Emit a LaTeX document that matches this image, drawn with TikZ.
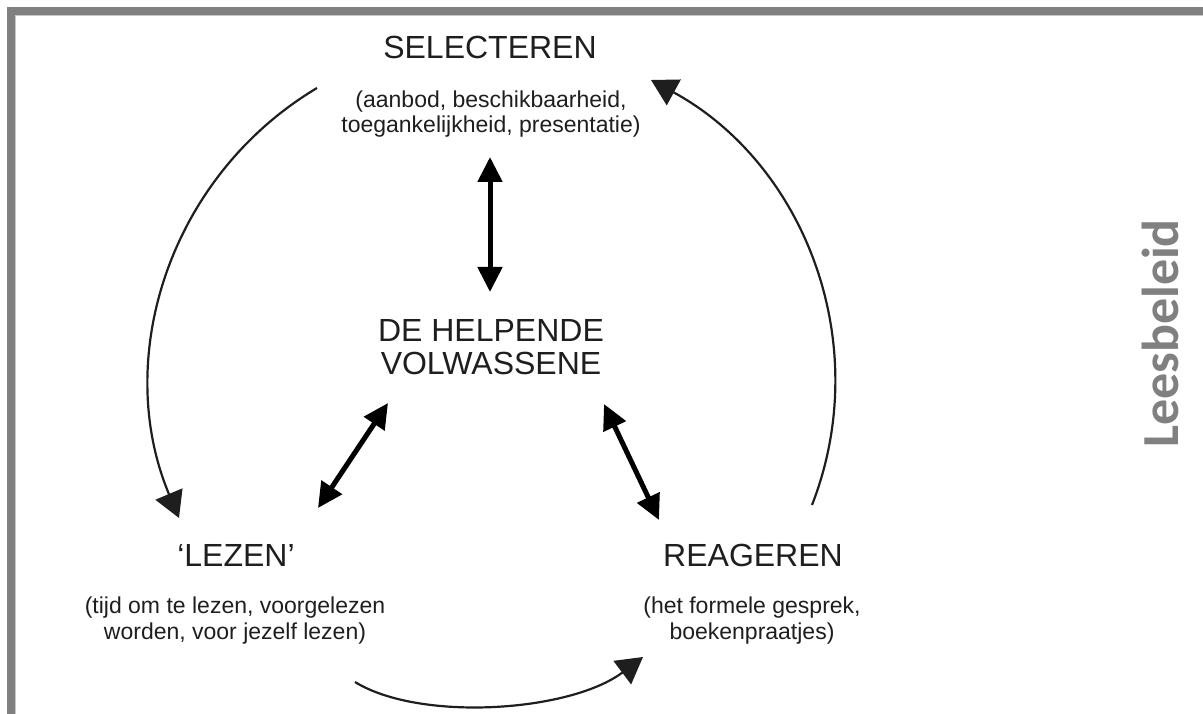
\documentclass[tikz,border=0pt]{standalone}
\usepackage{fontspec}
\setmainfont{Liberation Sans}
\newfontfamily\leesfont{Carlito}
\usetikzlibrary{arrows.meta}
\definecolor{frameg}{HTML}{808080}
\definecolor{txt}{HTML}{1E1E1E}
\tikzset{
  mainlbl/.style={anchor=base, inner sep=0pt, text=txt, font=\fontsize{32}{33}\selectfont, align=center},
  sublbl/.style={anchor=base, inner sep=0pt, text=txt, font=\fontsize{23}{25.5}\selectfont, align=center},
  cyclearrow/.style={line width=2.2pt, draw=txt, -{Triangle[length=26pt, width=29pt]}},
  linkarrow/.style={line width=5pt, draw=black, {Triangle[length=25pt, width=24pt]}-{Triangle[length=25pt, width=24pt]}}
}
\begin{document}
\begin{tikzpicture}[x=1pt, y=-1pt]
\useasboundingbox (0,0) rectangle (1203,714);
% frame
\draw[frameg, line width=8pt] (10.7,730) -- (10.7,10.7) -- (1220,10.7);
\draw[black!22, line width=1pt] (15.2,730) -- (15.2,15.2) -- (1220,15.2);
% labels (base anchor = baseline of the last line)
\node[mainlbl] (sel) at (490,59) {SELECTEREN};
\node[sublbl] (selsub) at (491,133) {(aanbod, beschikbaarheid,\\toegankelijkheid, presentatie)};
\node[mainlbl] (dhv) at (491,374) {DE HELPENDE\\VOLWASSENE};
\node[mainlbl] (lez) at (236,566) {‘LEZEN’};
\node[sublbl] (lezsub) at (235,639) {(tijd om te lezen, voorgelezen\\worden, voor jezelf lezen)};
\node[mainlbl] (rea) at (753,566) {REAGEREN};
\node[sublbl] (reasub) at (752,639) {(het formele gesprek,\\boekenpraatjes)};
\node[anchor=base, rotate=90, inner sep=0pt, text=frameg, font=\leesfont\bfseries\fontsize{52}{52}\selectfont] (lees) at (1178.5,333.5) {Leesbeleid};
% connector end points
\coordinate (la) at (317,88);
\coordinate (lb) at (179,518);
\coordinate (ra) at (812,505);
\coordinate (rb) at (651,80);
\coordinate (ba) at (355,682);
\coordinate (bb) at (643,657);
\coordinate (va) at (490,157);
\coordinate (vb) at (490,292);
\coordinate (da) at (388,403);
\coordinate (db) at (318,508);
\coordinate (ea) at (604,404);
\coordinate (eb) at (659,520);
% cycle arrows
\draw[cyclearrow] (la) .. controls (168.7,176.6) and (112.2,358.9) .. (lb);
\draw[cyclearrow] (ra) .. controls (875.2,342.7) and (804,163.5) .. (rb);
\draw[cyclearrow] (ba) .. controls (420,722) and (570,712) .. (bb);
% link arrows
\draw[linkarrow] (va) -- (vb);
\draw[linkarrow] (da) -- (db);
\draw[linkarrow] (ea) -- (eb);
\end{tikzpicture}
\end{document}
